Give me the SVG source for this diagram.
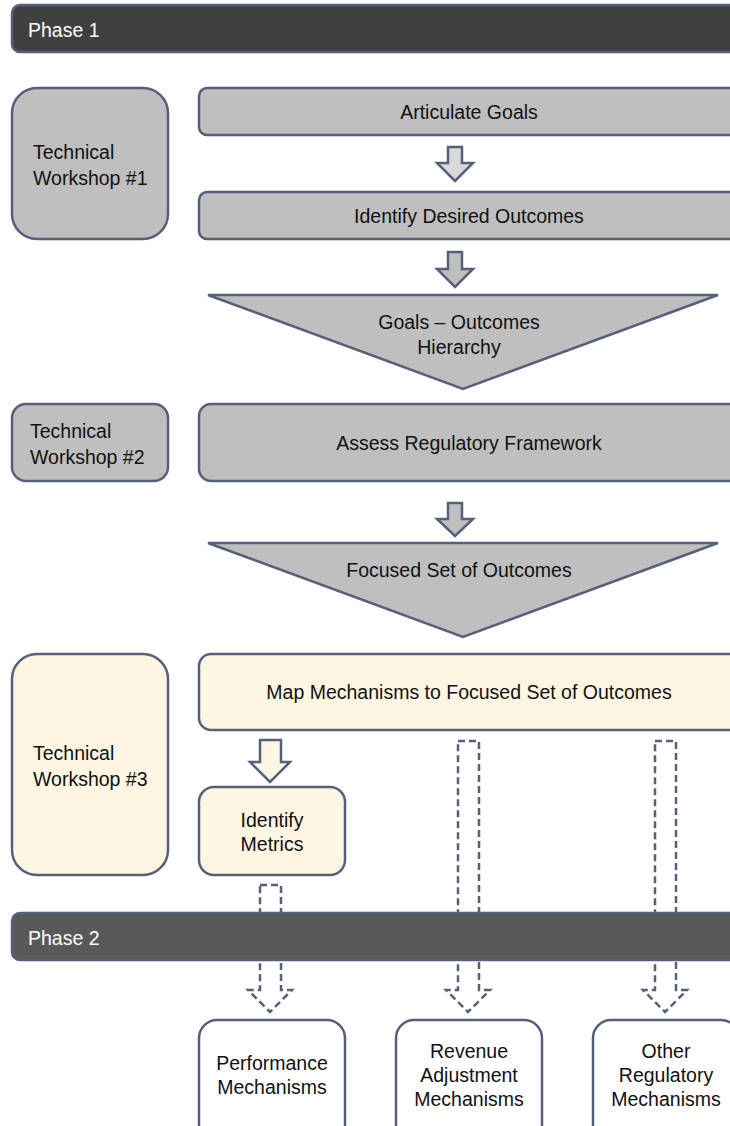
<svg xmlns="http://www.w3.org/2000/svg" width="730" height="1126" viewBox="0 0 730 1126">
<defs>
<style>
.bx{stroke:#56607a;stroke-width:2.5}
.g{fill:#bfbfbf}
.c{fill:#fef6e2}
.w{fill:#ffffff}
.t{font-family:"Liberation Sans",Arial,sans-serif;font-size:19.5px;fill:#111}
.m{text-anchor:middle}
.ph{font-family:"Liberation Sans",Arial,sans-serif;font-size:19.5px;fill:#ffffff}
.ar{stroke:#56607a;stroke-width:2.5;stroke-linejoin:miter}
.da{fill:none;stroke:#56607a;stroke-width:2.5;stroke-dasharray:7 4}
</style>
</defs>
<g id="phase1">
<rect x="12" y="5" width="740" height="47" rx="8" fill="#404040" stroke="#56607a" stroke-width="2.5"/>
<text class="ph" x="28" y="37">Phase 1</text>
</g>
<g id="tw1">
<rect class="bx g" x="12" y="88" width="156" height="151" rx="25"/>
<text class="t" x="33" y="159">Technical</text>
<text class="t" x="33" y="185">Workshop #1</text>
</g>
<g id="articulate">
<rect class="bx g" x="199" y="88" width="560" height="47" rx="8"/>
<text class="t m" x="469" y="119">Articulate Goals</text>
</g>
<g id="identify-outcomes">
<rect class="bx g" x="199" y="192" width="560" height="47" rx="8"/>
<text class="t m" x="469" y="223">Identify Desired Outcomes</text>
</g>
<g id="hierarchy">
<polygon class="bx g" points="208,295 718,295 463,389"/>
<text class="t m" x="459" y="329">Goals – Outcomes</text>
<text class="t m" x="459" y="354">Hierarchy</text>
</g>
<g id="tw2">
<rect class="bx g" x="12" y="404" width="156" height="77" rx="14"/>
<text class="t" x="30" y="438">Technical</text>
<text class="t" x="30" y="464">Workshop #2</text>
</g>
<g id="assess">
<rect class="bx g" x="199" y="404" width="560" height="77" rx="12"/>
<text class="t m" x="469" y="450">Assess Regulatory Framework</text>
</g>
<g id="focused">
<polygon class="bx g" points="208,543 718,543 463,637"/>
<text class="t m" x="459" y="577">Focused Set of Outcomes</text>
</g>
<g id="tw3">
<rect class="bx c" x="12" y="654" width="156" height="221" rx="25"/>
<text class="t" x="33" y="760">Technical</text>
<text class="t" x="33" y="786">Workshop #3</text>
</g>
<g id="map">
<rect class="bx c" x="199" y="654" width="560" height="76" rx="12"/>
<text class="t m" x="469" y="699">Map Mechanisms to Focused Set of Outcomes</text>
</g>
<g id="metrics">
<rect class="bx c" x="199" y="787" width="146" height="88" rx="15"/>
<text class="t m" x="272" y="827">Identify</text>
<text class="t m" x="272" y="851">Metrics</text>
</g>
<g id="connectors">
<polygon class="ar" fill="#d9d9d9" points="448,147 462,147 462,163 473,163 455,181 437,163 448,163"/>
<polygon class="ar" fill="#bfbfbf" points="448,252 462,252 462,269 473,269 455,287 437,269 448,269"/>
<polygon class="ar" fill="#bfbfbf" points="448,503 462,503 462,519 473,519 455,536 437,519 448,519"/>
<polygon class="ar" fill="#fef6e2" points="260,740 281,740 281,762 290,762 270,782 250,762 260,762"/>
<polygon class="da" points="260,885 281,885 281,990 292,990 270,1012 248,990 260,990"/>
<polygon class="da" points="458,741 479,741 479,990 490,990 468,1012 446,990 458,990"/>
<polygon class="da" points="655,741 676,741 676,990 687,990 665,1012 643,990 655,990"/>
</g>
<g id="phase2">
<rect x="12" y="913" width="740" height="47" rx="8" fill="#595959" stroke="#56607a" stroke-width="2.5"/>
<text class="ph" x="28" y="945">Phase 2</text>
</g>
<g id="performance">
<rect class="bx w" x="199" y="1020" width="146" height="130" rx="18"/>
<text class="t m" x="272" y="1070">Performance</text>
<text class="t m" x="272" y="1094">Mechanisms</text>
</g>
<g id="revenue">
<rect class="bx w" x="396" y="1020" width="146" height="130" rx="18"/>
<text class="t m" x="469" y="1058">Revenue</text>
<text class="t m" x="469" y="1082">Adjustment</text>
<text class="t m" x="469" y="1106">Mechanisms</text>
</g>
<g id="other">
<rect class="bx w" x="593" y="1020" width="146" height="130" rx="18"/>
<text class="t m" x="666" y="1058">Other</text>
<text class="t m" x="666" y="1082">Regulatory</text>
<text class="t m" x="666" y="1106">Mechanisms</text>
</g>
</svg>
